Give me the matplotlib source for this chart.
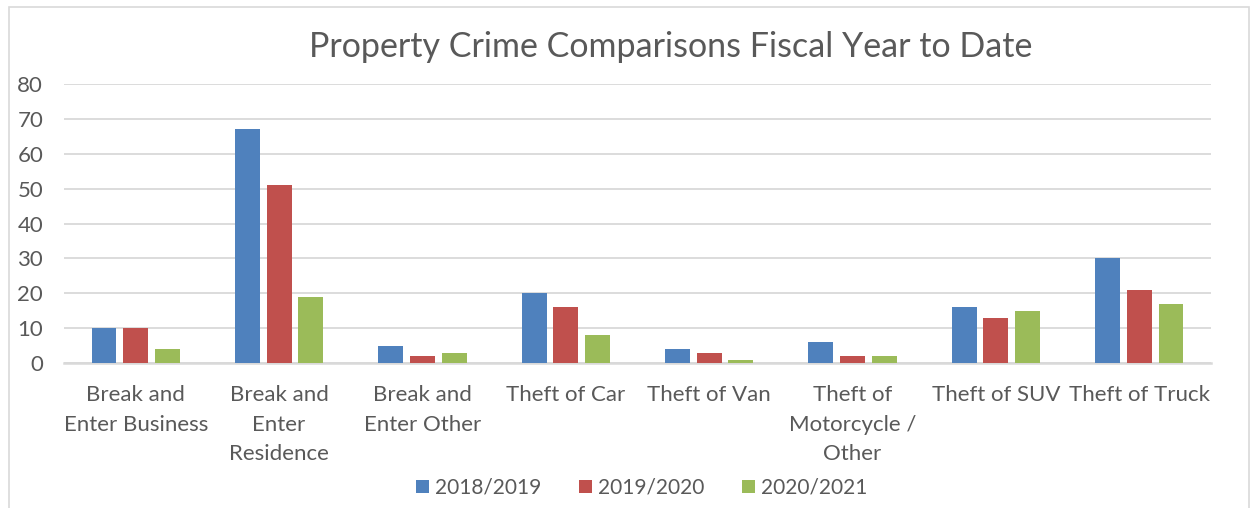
import matplotlib.pyplot as plt
import numpy as np
from matplotlib.patches import Rectangle

categories = ["Break and\nEnter Business", "Break and\nEnter\nResidence", "Break and\nEnter Other",
              "Theft of Car", "Theft of Van", "Theft of\nMotorcycle /\nOther",
              "Theft of SUV", "Theft of Truck"]
series_names = ["2018/2019", "2019/2020", "2020/2021"]
fy_2018 = [10, 67, 5, 20, 4, 6, 16, 30]
fy_2019 = [10, 51, 2, 16, 3, 2, 13, 21]
fy_2020 = [4, 19, 3, 8, 1, 2, 15, 17]
colors = ["#4F81BD", "#C0504D", "#9BBB59"]

plt.rcParams['font.family'] = ['Lato', 'DejaVu Sans']
text_color = "#595959"

fig = plt.figure(figsize=(12.54, 5.08), dpi=100)
ax = fig.add_axes([64 / 1254, 1 - 363 / 508, (1211 - 64) / 1254, (363 - 84) / 508])

# outer chart border
fig.patches.append(Rectangle((9 / 1254, -0.01), 1240 / 1254, 1 - 7 / 508 + 0.01,
                             transform=fig.transFigure, fill=False,
                             edgecolor="#D9D9D9", linewidth=1.2))

x = np.arange(len(categories))
width = 0.174
pitch = 0.221
for i, (vals, name) in enumerate(zip([fy_2018, fy_2019, fy_2020], series_names)):
    ax.bar(x + (i - 1) * pitch, vals, width, color=colors[i], label=name, zorder=3)

ax.set_xlim(-0.5, len(categories) - 0.5)
ax.set_ylim(0, 80)
ax.set_yticks(range(0, 81, 10))
ax.yaxis.grid(True, color="#D9D9D9", linewidth=1.3, zorder=0)
ax.set_axisbelow(True)
for s in ["top", "right", "left"]:
    ax.spines[s].set_visible(False)
ax.spines["bottom"].set_color("#D9D9D9")
ax.spines["bottom"].set_linewidth(1.8)
ax.tick_params(axis="both", length=0, labelsize=16, colors=text_color)
ax.tick_params(axis="y", pad=15)
ax.set_xticks(x)
ax.set_xticklabels(categories, linespacing=1.6, va="top")
ax.tick_params(axis="x", pad=16)

fig.text(0.535, 0.907, "Property Crime Comparisons Fiscal Year to Date",
         ha="center", va="center", fontsize=24.5, color=text_color)

leg = fig.legend(loc="center", bbox_to_anchor=(0.512, 0.04), ncol=3, frameon=False,
                 fontsize=15, handlelength=0.62, handleheight=0.62,
                 handletextpad=0.3, columnspacing=1.8)
for t in leg.get_texts():
    t.set_color(text_color)

fig.savefig("out.png", dpi=100)
